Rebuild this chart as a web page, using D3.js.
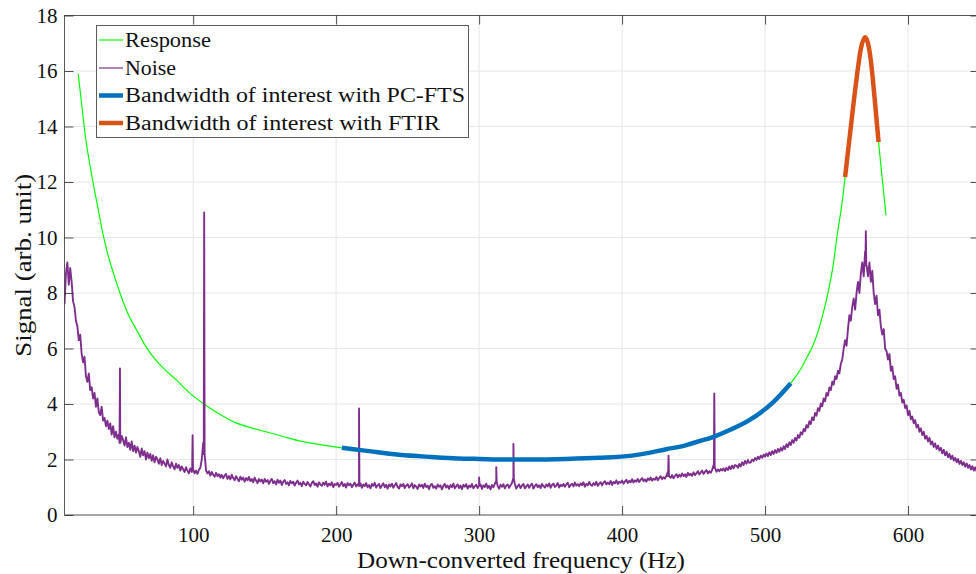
<!DOCTYPE html>
<html>
<head>
<meta charset="utf-8">
<script src="https://cdn.jsdelivr.net/npm/d3@7"></script>
<style>
  body { margin: 0; background: #fff; }
  svg { display: block; font-family: 'Liberation Serif', 'Times New Roman', serif; }
</style>
</head>
<body>
<svg id="chart" width="976" height="574"></svg>
<script>
// ---- data ----
const xTicks = [100, 200, 300, 400, 500, 600]
const yTicks = [0, 2, 4, 6, 8, 10, 12, 14, 16, 18]

// response curve (Hz, arb. unit)
const respFreq = [19.6, 22, 25, 28, 31, 34, 37, 40, 44, 48.8, 54, 60.5, 66, 72, 80, 88.4, 97, 107, 118, 130, 140, 151, 163, 175, 190,
  204, 220, 244, 267, 285, 300, 320, 337, 361, 384, 407, 431, 445, 454, 463, 476, 489, 505, 518,
  526, 529, 533, 537, 540, 542.5, 545, 547.5, 550.5, 554, 556, 558, 560, 562.5, 564.7, 567, 570, 572, 574, 576.5, 579.4, 582, 584.6]
const respVal = [15.9, 14.8, 13.5, 12.55, 11.7, 10.9, 10.1, 9.45, 8.75, 8.0, 7.3, 6.66, 6.15, 5.7, 5.25, 4.86, 4.42, 4.02, 3.65, 3.32, 3.15, 3.0, 2.83, 2.66, 2.53,
  2.42, 2.32, 2.17, 2.09, 2.04, 2.02, 2.0, 2.0, 2.02, 2.06, 2.14, 2.37, 2.52, 2.66, 2.8, 3.08, 3.42, 4.03, 4.75,
  5.35, 5.65, 6.05, 6.6, 7.15, 7.65, 8.25, 8.95, 10.1, 11.3, 12.18, 13.1, 13.98, 15.1, 16.0, 16.8, 17.22, 17.0, 16.38, 15.1, 13.44, 12.1, 10.8]

// bandwidths of interest (Hz)
const pcftsBand = [204, 518]
const ftirBand = [556, 579.4]

// noise spectrum, one sample per Hz from 10 Hz
const noiseStart = 10
const noiseStep = 1
const noiseVal = [
  7.6, 8.7, 9.1, 8.3, 8.9, 8.4, 7.7, 7.5, 7.0, 6.8,
  6.3, 6.5, 5.8, 5.5, 5.7, 5.0, 4.8, 5.1, 4.5, 4.6,
  4.2, 4.4, 3.9, 4.2, 3.7, 3.6, 3.9, 3.4, 3.5, 3.2,
  3.4, 3.1, 3.3, 2.9, 3.2, 2.8, 3.0, 2.75, 2.9, 2.6,
  2.85, 2.7, 2.5, 2.8, 2.45, 2.6, 2.35, 2.65, 2.3, 2.5,
  2.25, 2.45, 2.3, 2.1, 2.4, 2.15, 2.3, 2.0, 2.25, 2.05,
  2.2, 1.95, 2.15, 1.9, 2.1, 2.0, 1.85, 2.05, 1.8, 1.95,
  1.85, 1.75, 2.0, 1.8, 1.7, 1.9, 1.75, 1.65, 1.85, 1.7,
  1.8, 1.6, 1.75, 1.65, 1.55, 1.72, 1.6, 1.5, 1.68, 1.55,
  1.65, 1.5, 1.6, 1.48, 1.62, 1.7, 2.0, 2.6, 2.2, 1.6,
  1.5, 1.58, 1.42, 1.55, 1.45, 1.38, 1.52, 1.4, 1.47, 1.35,
  1.45, 1.32, 1.42, 1.48, 1.3, 1.4, 1.28, 1.45, 1.33, 1.25,
  1.4, 1.3, 1.22, 1.38, 1.27, 1.35, 1.2, 1.33, 1.25, 1.37,
  1.22, 1.3, 1.18, 1.35, 1.24, 1.15, 1.3, 1.21, 1.28, 1.14,
  1.3, 1.2, 1.26, 1.12, 1.24, 1.3, 1.15, 1.22, 1.1, 1.27,
  1.16, 1.24, 1.08, 1.2, 1.26, 1.12, 1.18, 1.07, 1.23, 1.14,
  1.2, 1.06, 1.17, 1.24, 1.1, 1.16, 1.04, 1.2, 1.12, 1.07,
  1.19, 1.1, 1.03, 1.16, 1.22, 1.08, 1.14, 1.02, 1.18, 1.1,
  1.05, 1.17, 1.09, 1.2, 1.03, 1.13, 1.07, 1.18, 1.0, 1.12,
  1.08, 1.16, 1.02, 1.1, 1.19, 1.04, 1.12, 0.99, 1.15, 1.07,
  1.13, 1.0, 1.09, 1.17, 1.03, 1.11, 1.05, 1.14, 0.98, 1.1,
  1.04, 1.15, 1.0, 1.08, 0.96, 1.12, 1.05, 1.16, 0.99, 1.07,
  1.12, 0.97, 1.06, 1.14, 1.0, 1.09, 0.95, 1.1, 1.03, 1.13,
  0.98, 1.07, 1.15, 1.01, 0.95, 1.1, 1.04, 1.12, 0.97, 1.06,
  1.11, 0.99, 1.05, 1.14, 0.96, 1.08, 1.02, 0.94, 1.1, 1.03,
  1.09, 0.97, 1.13, 1.01, 1.06, 0.93, 1.08, 1.12, 0.98, 1.04,
  0.95, 1.1, 1.02, 1.07, 0.92, 1.05, 1.12, 0.99, 1.06, 0.94,
  1.08, 1.0, 1.13, 0.96, 1.04, 1.1, 0.97, 1.06, 0.93, 1.09,
  1.02, 1.11, 0.95, 1.06, 1.0, 1.12, 0.96, 1.04, 1.09, 0.97,
  1.05, 1.1, 0.94, 1.07, 1.01, 1.13, 0.97, 1.05, 0.92, 1.08,
  1.0, 1.12, 1.2, 1.04, 0.95, 1.09, 1.02, 1.11, 0.96, 1.06,
  1.1, 0.98, 1.07, 1.15, 1.3, 1.12, 0.95, 1.04, 1.1, 0.97,
  1.06, 1.12, 0.96, 1.03, 1.1, 0.98, 1.07, 1.13, 0.95, 1.05,
  1.11, 1.0, 1.07, 0.97, 1.12, 1.04, 0.99, 1.1, 1.03, 1.14,
  0.98, 1.08, 1.13, 1.01, 1.06, 1.15, 0.99, 1.09, 1.04, 1.12,
  1.02, 1.1, 1.16, 1.0, 1.08, 1.13, 1.03, 1.17, 1.06, 1.11,
  1.04, 1.14, 1.08, 1.18, 1.02, 1.12, 1.07, 1.19, 1.09, 1.05,
  1.15, 1.08, 1.2, 1.05, 1.13, 1.18, 1.07, 1.16, 1.22, 1.1,
  1.17, 1.11, 1.23, 1.08, 1.19, 1.14, 1.25, 1.12, 1.2, 1.16,
  1.24, 1.13, 1.21, 1.27, 1.15, 1.23, 1.18, 1.29, 1.17, 1.25,
  1.2, 1.3, 1.19, 1.27, 1.33, 1.22, 1.28, 1.2, 1.32, 1.26,
  1.35, 1.24, 1.31, 1.27, 1.37, 1.25, 1.33, 1.4, 1.29, 1.36,
  1.31, 1.42, 1.55, 1.4, 1.34, 1.44, 1.32, 1.41, 1.47, 1.36,
  1.45, 1.38, 1.5, 1.4, 1.47, 1.37, 1.52, 1.43, 1.49, 1.41,
  1.54, 1.44, 1.5, 1.58, 1.46, 1.53, 1.6, 1.48, 1.56, 1.62,
  1.5, 1.58, 1.52, 1.62, 1.8, 1.7, 1.56, 1.64, 1.58, 1.66,
  1.6, 1.68, 1.58, 1.7, 1.62, 1.75, 1.65, 1.78, 1.68, 1.8,
  1.78, 1.7, 1.84, 1.75, 1.9, 1.8, 1.95, 1.85, 1.98, 1.88,
  1.9, 2.0, 1.94, 2.05, 1.98, 2.1, 2.02, 2.14, 2.06, 2.18,
  2.1, 2.22, 2.12, 2.26, 2.16, 2.3, 2.2, 2.34, 2.24, 2.38,
  2.28, 2.42, 2.32, 2.48, 2.38, 2.55, 2.45, 2.62, 2.52, 2.7,
  2.6, 2.78, 2.68, 2.88, 2.78, 2.98, 2.9, 3.1, 3.02, 3.24,
  3.15, 3.38, 3.28, 3.52, 3.42, 3.68, 3.58, 3.85, 3.75, 4.02,
  3.92, 4.2, 4.1, 4.4, 4.3, 4.6, 4.5, 4.8, 4.7, 5.0,
  4.9, 5.2, 5.1, 5.45, 5.6, 6.0, 6.3, 6.1, 6.7, 7.2,
  7.0, 7.5, 7.8, 7.4, 8.0, 8.4, 8.0, 8.7, 9.1, 8.6,
  9.5, 9.0, 8.6, 9.1, 8.4, 8.8, 8.0, 7.6, 7.9, 7.2,
  7.4, 6.8, 6.5, 6.7, 6.0, 5.9, 5.6, 5.8, 5.2, 5.35,
  4.9, 5.0, 4.55, 4.7, 4.3, 4.4, 4.05, 4.15, 3.85, 3.95,
  3.6, 3.75, 3.45, 3.55, 3.3, 3.42, 3.15, 3.25, 3.0, 3.12,
  2.88, 3.0, 2.75, 2.85, 2.65, 2.78, 2.55, 2.65, 2.45, 2.58,
  2.38, 2.5, 2.32, 2.42, 2.22, 2.35, 2.15, 2.28, 2.08, 2.2,
  2.02, 2.14, 1.96, 2.06, 1.9, 2.02, 1.84, 1.95, 1.8, 1.9,
  1.74, 1.86, 1.7, 1.8, 1.64, 1.76, 1.6, 1.72, 1.57, 1.66,
  1.6
]
// narrow spikes in the noise
const spikeFreq = [48.8, 99.6, 107.7, 216, 300, 312, 324, 432.5, 464.5, 570.5]
const spikeVal = [5.28, 2.88, 10.9, 3.84, 1.35, 1.72, 2.56, 2.14, 4.38, 10.23]

const legendLabels = ['Response', 'Noise', 'Bandwidth of interest with PC-FTS', 'Bandwidth of interest with FTIR']
const legendWidths = [86, 51, 340, 315]

// ---- layout ----
const plot = { left: 64.5, top: 15.5, right: 979.5, bottom: 515 }
const colors = { resp: '#00ff00', noise: '#7e2f8e', pcfts: '#0072bd', ftir: '#d95319', axis: '#262626', grid: '#e6e6e6' }

const svg = d3.select('#chart')

const x = d3.scaleLinear().domain([10, 650]).range([plot.left, plot.right])
const y = d3.scaleLinear().domain([0, 18]).range([plot.bottom, plot.top])

svg.append('defs')
  .append('clipPath')
  .attr('id', 'plot-clip')
  .append('rect')
  .attr('x', plot.left)
  .attr('y', plot.top)
  .attr('width', plot.right - plot.left)
  .attr('height', plot.bottom - plot.top)

// grid
const grid = svg.append('g').attr('class', 'grid')
grid.selectAll('line.vx')
  .data(xTicks)
  .join('line')
  .attr('class', 'vx')
  .attr('x1', d => x(d)).attr('x2', d => x(d))
  .attr('y1', plot.top).attr('y2', plot.bottom)
  .attr('stroke', colors.grid).attr('stroke-width', 1)
grid.selectAll('line.hy')
  .data(yTicks)
  .join('line')
  .attr('class', 'hy')
  .attr('x1', plot.left).attr('x2', plot.right)
  .attr('y1', d => y(d)).attr('y2', d => y(d))
  .attr('stroke', colors.grid).attr('stroke-width', 1)

// series
const line = d3.line().x(d => x(d[0])).y(d => y(d[1]))
const smooth = d3.line().x(d => x(d[0])).y(d => y(d[1])).curve(d3.curveMonotoneX)
const resp = respFreq.map((f, i) => [f, respVal[i]])

const noise = noiseVal.map((v, i) => [noiseStart + i * noiseStep, v])
spikeFreq.forEach((f, i) => {
  const foot = noiseVal[Math.round((f - noiseStart) / noiseStep)]
  noise.push([f - 0.3, foot], [f, spikeVal[i]], [f + 0.3, foot])
})
noise.sort((a, b) => a[0] - b[0])

const series = svg.append('g').attr('clip-path', 'url(#plot-clip)')
series.append('path')
  .datum(resp)
  .attr('fill', 'none')
  .attr('stroke', colors.resp)
  .attr('stroke-width', 1.2)
  .attr('d', smooth)
series.append('path')
  .datum(noise)
  .attr('fill', 'none')
  .attr('stroke', colors.noise)
  .attr('stroke-width', 1.9)
  .attr('stroke-linejoin', 'round')
  .attr('d', line)
series.append('path')
  .datum(resp.filter(d => d[0] >= pcftsBand[0] && d[0] <= pcftsBand[1]))
  .attr('fill', 'none')
  .attr('stroke', colors.pcfts)
  .attr('stroke-width', 4.5)
  .attr('d', smooth)
series.append('path')
  .datum(resp.filter(d => d[0] >= ftirBand[0] && d[0] <= ftirBand[1]))
  .attr('fill', 'none')
  .attr('stroke', colors.ftir)
  .attr('stroke-width', 4.5)
  .attr('d', smooth)

// axes box with inward ticks
const tickLen = 9
const axisG = svg.append('g').attr('class', 'axes')
axisG.append('rect')
  .attr('x', plot.left).attr('y', plot.top)
  .attr('width', plot.right - plot.left).attr('height', plot.bottom - plot.top)
  .attr('fill', 'none').attr('stroke', colors.axis).attr('stroke-width', 1).attr('stroke-opacity', 0.75)

const xAxisB = d3.axisBottom(x).tickValues(xTicks).tickSizeInner(-tickLen).tickSizeOuter(0).tickPadding(12)
const xAxisT = d3.axisTop(x).tickValues(xTicks).tickSizeInner(-tickLen).tickSizeOuter(0).tickFormat('')
const yAxisL = d3.axisLeft(y).tickValues(yTicks).tickSizeInner(-tickLen).tickSizeOuter(0).tickPadding(7)
const yAxisR = d3.axisRight(y).tickValues(yTicks).tickSizeInner(-tickLen).tickSizeOuter(0).tickFormat('')

axisG.append('g').attr('transform', `translate(0,${plot.bottom})`).call(xAxisB)
axisG.append('g').attr('transform', `translate(0,${plot.top})`).call(xAxisT)
axisG.append('g').attr('transform', `translate(${plot.left},0)`).call(yAxisL)
axisG.append('g').attr('transform', `translate(${plot.right},0)`).call(yAxisR)
axisG.selectAll('.domain').remove()
axisG.selectAll('.tick line').attr('stroke', colors.axis).attr('stroke-opacity', 0.8)
axisG.selectAll('.tick text')
  .attr('fill', '#111')
  .attr('font-size', 21)
  .attr('font-family', "'Liberation Serif', serif")

// axis labels
svg.append('text')
  .attr('x', (357 + 685) / 2)
  .attr('y', 568)
  .attr('text-anchor', 'middle')
  .attr('font-size', 23)
  .attr('fill', '#111')
  .attr('textLength', 328)
  .attr('lengthAdjust', 'spacingAndGlyphs')
  .text('Down-converted frequency (Hz)')

svg.append('text')
  .attr('transform', `translate(31,${(plot.top + plot.bottom) / 2}) rotate(-90)`)
  .attr('text-anchor', 'middle')
  .attr('font-size', 23)
  .attr('fill', '#111')
  .attr('textLength', 183)
  .attr('lengthAdjust', 'spacingAndGlyphs')
  .text('Signal (arb. unit)')

// legend
const legend = svg.append('g').attr('class', 'legend')
legend.append('rect')
  .attr('x', 96.5).attr('y', 25.5)
  .attr('width', 372).attr('height', 112)
  .attr('fill', '#fff')
  .attr('stroke', colors.axis).attr('stroke-opacity', 0.75)
const legendColors = [colors.resp, colors.noise, colors.pcfts, colors.ftir]
const legendStroke = [1.2, 1.2, 4.5, 4.5]
const rowY = [40, 68, 95.5, 123]
legendLabels.forEach((lab, i) => {
  legend.append('line')
    .attr('x1', 99).attr('x2', 123)
    .attr('y1', rowY[i]).attr('y2', rowY[i])
    .attr('stroke', legendColors[i])
    .attr('stroke-width', legendStroke[i])
  legend.append('text')
    .attr('x', 125)
    .attr('y', rowY[i] + 6.5)
    .attr('font-size', 20)
    .attr('fill', '#111')
    .attr('textLength', legendWidths[i])
    .attr('lengthAdjust', 'spacingAndGlyphs')
    .text(lab)
})
</script>
</body>
</html>
